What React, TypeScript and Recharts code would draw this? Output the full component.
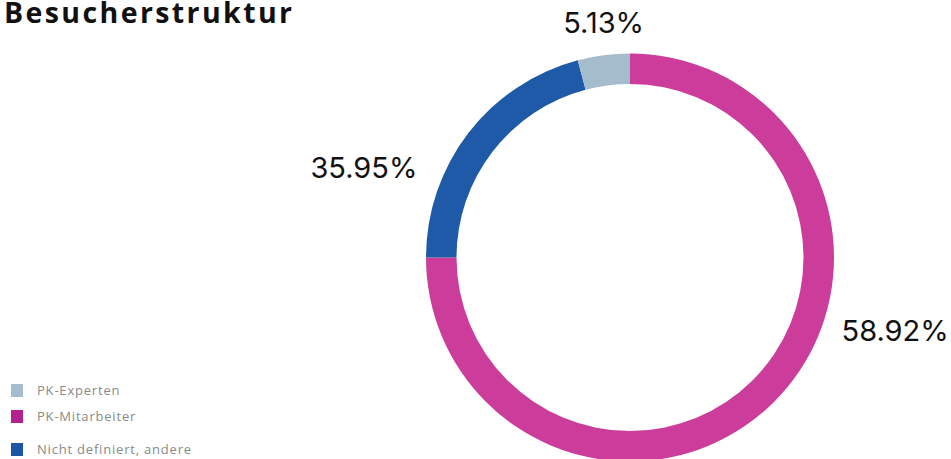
import React from 'react';
import { PieChart, Pie, Cell } from 'recharts';

// legend order
const categories = ['PK-Experten', 'PK-Mitarbeiter', 'Nicht definiert, andere'];
const shares = [4.12, 75.0, 20.88]; // slice sizes as drawn
const labels = ['5.13%', '58.92%', '35.95%']; // texts printed next to the ring
const colors = ['#a5bccc', '#cc3d9b', '#1f5aa8'];
const legendColors = ['#a4bccd', '#b5218f', '#1e56a6'];

// clockwise from 12 o'clock: Mitarbeiter, Nicht definiert, Experten
const ringOrder = [1, 2, 0];
// where each label sits (degrees, radius from centre)
const labelAngle = [96.4, -15.4, 161.4];
const labelRadius = [236.5, 275, 280.7];

const pieData = ringOrder.map(i => ({
  name: categories[i],
  value: shares[i],
  label: labels[i],
  color: colors[i],
  angle: labelAngle[i],
  radius: labelRadius[i],
}));

const RAD = Math.PI / 180;

const renderLabel = (props: any) => {
  const { cx, cy, index } = props;
  const d = pieData[index];
  const x = cx + d.radius * Math.cos(d.angle * RAD);
  const y = cy - d.radius * Math.sin(d.angle * RAD);
  return (
    <text
      x={x}
      y={y}
      textAnchor="middle"
      dominantBaseline="central"
      fill="#111"
      fontSize={29}
      fontFamily="Inter, sans-serif"
    >
      {d.label}
    </text>
  );
};

const rowHeights = [26, 26, 40];

export default function App() {
  return (
    <div style={{ position: 'absolute', left: 0, top: 0, width: 951, height: 459, background: '#fff', overflow: 'hidden' }}>
      <div
        style={{
          position: 'absolute',
          left: 4,
          top: 0,
          fontFamily: '"Open Sans", sans-serif',
          fontWeight: 700,
          fontSize: 28.5,
          color: '#111',
          letterSpacing: 2.4,
          lineHeight: '24px',
        }}
      >
        Besucherstruktur
      </div>
      <PieChart width={951} height={459}>
        <Pie
          data={pieData}
          dataKey="value"
          nameKey="name"
          cx={625}
          cy={252.5}
          innerRadius={173.5}
          outerRadius={204}
          startAngle={90}
          endAngle={-270}
          stroke="none"
          label={renderLabel}
          labelLine={false}
          isAnimationActive={false}
        >
          {pieData.map((entry, idx) => (
            <Cell key={`cell-${idx}`} fill={entry.color} />
          ))}
        </Pie>
      </PieChart>
      <div style={{ position: 'absolute', left: 11, top: 377, fontFamily: '"Open Sans", sans-serif', fontSize: 13, color: '#8a8a8a', letterSpacing: 0.8 }}>
        {categories.map((c, i) => (
          <div key={c} style={{ display: 'flex', alignItems: 'center', height: rowHeights[i] }}>
            <span style={{ width: 12, height: 13, background: legendColors[i], display: 'inline-block', marginRight: 14 }} />
            <span>{c}</span>
          </div>
        ))}
      </div>
    </div>
  );
}
